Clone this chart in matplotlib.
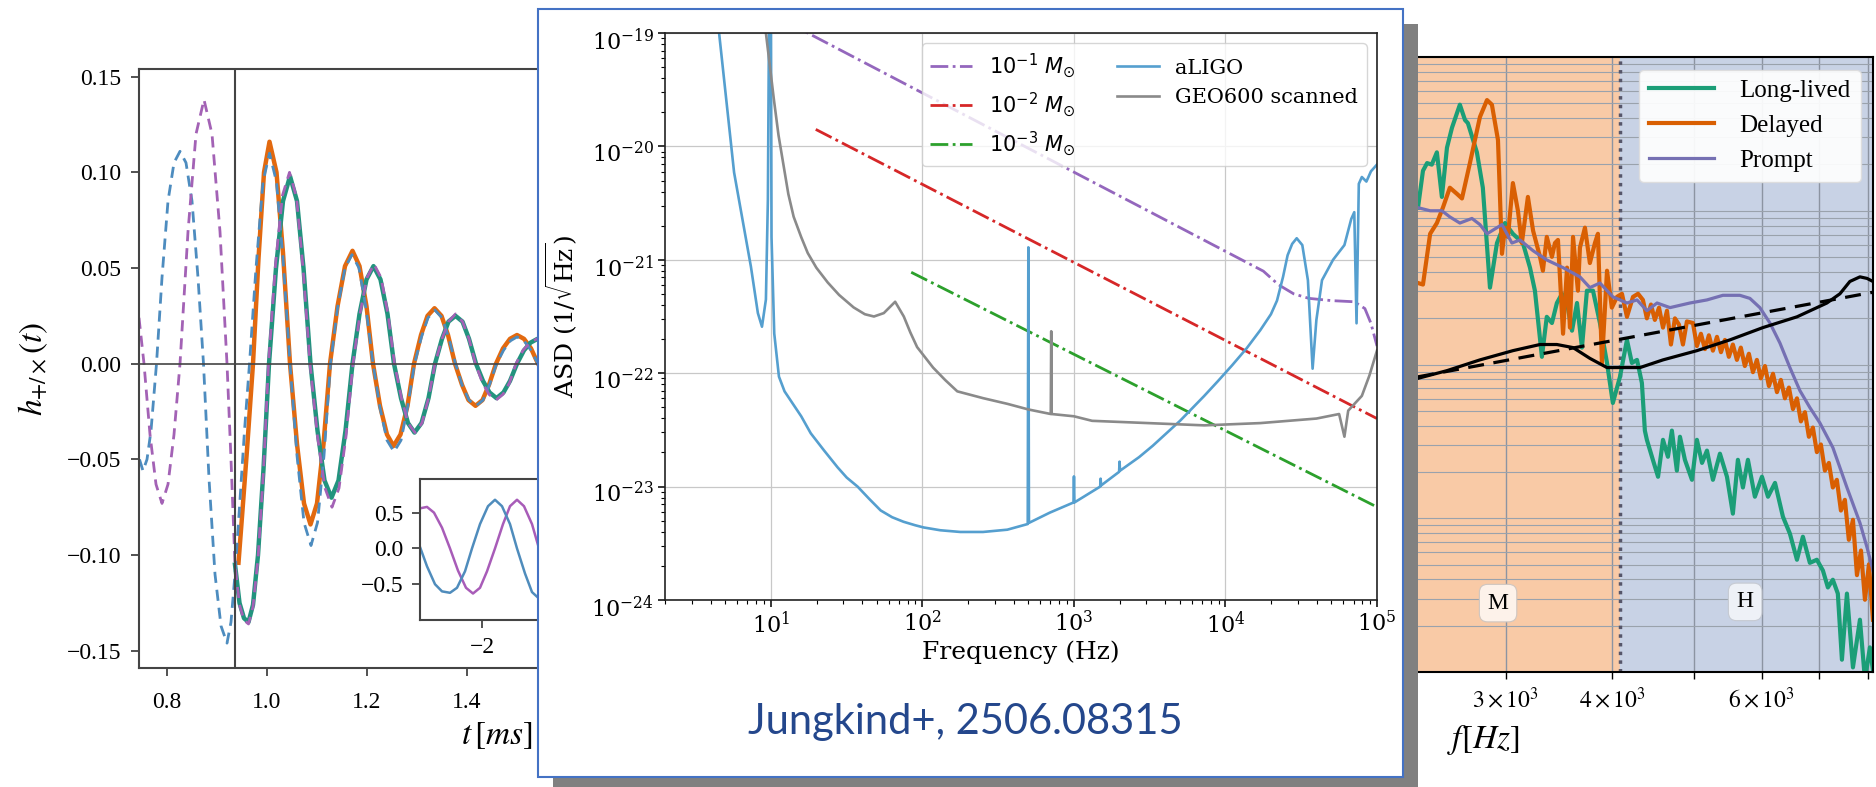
import numpy as np
import matplotlib
matplotlib.use('Agg')
import matplotlib.pyplot as plt
import matplotlib.transforms as mtransforms
from matplotlib.patches import Rectangle
from matplotlib.ticker import NullFormatter
from matplotlib.font_manager import FontProperties

W, H = 1876, 787
plt.rcParams['font.family'] = 'DejaVu Serif'
plt.rcParams['mathtext.fontset'] = 'dejavuserif'

# ---- left panel: waveforms h(t), t in ms ----
dp_t = [0.744, 0.754, 0.766, 0.778, 0.790, 0.802, 0.814, 0.826, 0.842, 0.858, 0.874, 0.890, 0.906,
        0.920, 0.928, 0.936, 0.945, 0.954, 0.963, 0.972, 0.982, 0.993, 1.003, 1.017, 1.031, 1.045,
        1.059, 1.072, 1.086, 1.101, 1.116, 1.130, 1.144, 1.158, 1.172, 1.186, 1.200, 1.214, 1.228,
        1.242, 1.255, 1.269, 1.282, 1.296, 1.310, 1.323, 1.336, 1.350, 1.363, 1.377, 1.391, 1.404,
        1.417, 1.431, 1.444, 1.458, 1.472, 1.485, 1.498, 1.512, 1.526, 1.540, 1.553, 1.567, 1.580]
dp_h = [0.024, 0.0, -0.037, -0.063, -0.073, -0.063, -0.037, 0.0, 0.069, 0.120, 0.138, 0.120, 0.069,
        0.0, -0.050, -0.105, -0.126, -0.134, -0.136, -0.127, -0.102, -0.056, 0.0, 0.052, 0.088, 0.100,
        0.087, 0.050, 0.0, -0.038, -0.065, -0.075, -0.065, -0.038, 0.0, 0.026, 0.045, 0.052, 0.045,
        0.026, 0.0, -0.018, -0.031, -0.036, -0.031, -0.018, 0.0, 0.013, 0.022, 0.026, 0.022, 0.013,
        0.0, -0.010, -0.016, -0.019, -0.016, -0.010, 0.0, 0.007, 0.011, 0.013, 0.011, 0.007, 0.0]

db_t = [0.745, 0.752, 0.760, 0.768, 0.779, 0.790, 0.802, 0.814, 0.826, 0.838, 0.850, 0.862, 0.873,
        0.884, 0.896, 0.908, 0.920, 0.928, 0.936, 0.945, 0.955, 0.965, 0.978, 0.992, 1.005, 1.019,
        1.032, 1.046, 1.060, 1.074, 1.088, 1.101, 1.114, 1.127, 1.141, 1.156, 1.170, 1.184, 1.198,
        1.212, 1.226, 1.240, 1.254, 1.268, 1.281, 1.295, 1.309, 1.322, 1.336, 1.350, 1.363, 1.377,
        1.390, 1.404, 1.418, 1.432, 1.445, 1.459, 1.473, 1.487, 1.500, 1.514, 1.528, 1.542, 1.556,
        1.570, 1.584]
db_h = [-0.050, -0.056, -0.050, -0.035, 0.0, 0.045, 0.085, 0.105, 0.111, 0.105, 0.085, 0.045, 0.0,
        -0.060, -0.110, -0.137, -0.146, -0.135, -0.110, -0.075, -0.035, 0.0, 0.050, 0.095, 0.110,
        0.095, 0.055, 0.0, -0.048, -0.083, -0.095, -0.083, -0.048, 0.0, 0.029, 0.050, 0.057, 0.050,
        0.029, 0.0, -0.023, -0.040, -0.046, -0.040, -0.023, 0.0, 0.014, 0.024, 0.028, 0.024, 0.014,
        0.0, -0.011, -0.019, -0.022, -0.019, -0.011, 0.0, 0.007, 0.012, 0.014, 0.012, 0.007, 0.0,
        -0.006, -0.009, -0.010]

os_t = [0.943, 0.950, 0.960, 0.972, 0.983, 0.994, 1.005, 1.019, 1.032, 1.046, 1.060, 1.074, 1.087,
        1.100, 1.113, 1.126, 1.141, 1.156, 1.171, 1.185, 1.199, 1.212, 1.226, 1.240, 1.253, 1.267,
        1.281, 1.294, 1.308, 1.321, 1.335, 1.349, 1.362, 1.376, 1.390, 1.403, 1.417, 1.431, 1.444,
        1.458, 1.472, 1.486, 1.500, 1.514, 1.528, 1.542, 1.556, 1.570, 1.584]
os_h = [-0.104, -0.080, -0.045, 0.0, 0.055, 0.100, 0.116, 0.100, 0.058, 0.0, -0.042, -0.073, -0.084,
        -0.073, -0.042, 0.0, 0.030, 0.051, 0.059, 0.051, 0.030, 0.0, -0.022, -0.037, -0.043, -0.037,
        -0.022, 0.0, 0.015, 0.025, 0.029, 0.025, 0.015, 0.0, -0.011, -0.019, -0.022, -0.019, -0.011,
        0.0, 0.008, 0.013, 0.015, 0.013, 0.008, 0.0, -0.006, -0.010, -0.011]

ts_t = [0.936, 0.945, 0.954, 0.963, 0.972, 0.982, 0.993, 1.004, 1.018, 1.032, 1.046, 1.060, 1.073,
        1.087, 1.101, 1.115, 1.129, 1.143, 1.157, 1.171, 1.185, 1.199, 1.213, 1.227, 1.241, 1.254,
        1.268, 1.282, 1.295, 1.309, 1.323, 1.336, 1.350, 1.363, 1.377, 1.391, 1.404, 1.418, 1.432,
        1.445, 1.459, 1.473, 1.486, 1.500, 1.514, 1.527, 1.541, 1.555, 1.568, 1.582]
ts_h = [-0.105, -0.125, -0.133, -0.135, -0.126, -0.100, -0.055, 0.0, 0.050, 0.085, 0.098, 0.085, 0.050,
        0.0, -0.035, -0.061, -0.070, -0.061, -0.035, 0.0, 0.026, 0.044, 0.051, 0.044, 0.026, 0.0,
        -0.018, -0.031, -0.036, -0.031, -0.018, 0.0, 0.013, 0.022, 0.025, 0.022, 0.013, 0.0, -0.009,
        -0.015, -0.018, -0.015, -0.009, 0.0, 0.007, 0.011, 0.013, 0.011, 0.007, 0.0]

t_merger = 0.936

inset_pu_t = [-2.62, -2.55, -2.48, -2.40, -2.32, -2.24, -2.16, -2.09, -2.02, -1.95, -1.87, -1.79,
              -1.72, -1.65, -1.58, -1.50, -1.43, -1.35, -1.28, -1.20, -1.12, -1.05, -0.98]
inset_pu_h = [0.56, 0.58, 0.50, 0.29, 0.0, -0.31, -0.55, -0.63, -0.55, -0.32, 0.0, 0.34, 0.59, 0.68,
              0.59, 0.34, 0.0, -0.35, -0.60, -0.69, -0.60, -0.35, 0.0]
inset_bl_t = [-2.62, -2.55, -2.47, -2.40, -2.32, -2.25, -2.17, -2.10, -2.02, -1.94, -1.87, -1.80,
              -1.72, -1.65, -1.57, -1.50, -1.43, -1.36, -1.28, -1.20, -1.13, -1.06]
inset_bl_h = [0.02, -0.25, -0.50, -0.60, -0.62, -0.55, -0.32, 0.0, 0.34, 0.59, 0.68, 0.59, 0.34, 0.0,
              -0.35, -0.61, -0.70, -0.61, -0.35, 0.0, 0.35, 0.60]

# ---- middle panel: ASD curves, stored as log10(f), log10(ASD) ----
aligo_logf = [0.62, 0.658, 0.757, 0.868, 0.914, 0.941, 0.967, 0.98, 0.987, 0.993, 1.0, 1.004, 1.022,
              1.053, 1.09, 1.13, 1.2, 1.263, 1.35, 1.44, 1.5, 1.572, 1.65, 1.724, 1.8, 1.875, 1.95,
              2.007, 2.118, 2.25, 2.40, 2.56, 2.695, 2.699, 2.703, 2.84, 2.997, 3.0, 3.003, 3.173,
              3.176, 3.179, 3.298, 3.301, 3.304, 3.43, 3.52, 3.61, 3.7, 3.78, 3.86, 3.95, 4.044, 4.14,
              4.23, 4.3, 4.34, 4.38, 4.41, 4.44, 4.47, 4.507, 4.544, 4.575, 4.6, 4.637, 4.71, 4.785,
              4.83, 4.85, 4.865, 4.88, 4.9, 4.93, 4.96, 5.0]
aligo_logasd = [-18.8, -19.0, -20.23, -21.06, -21.47, -21.59, -21.35, -20.47, -19.0, -18.8, -18.8,
                -20.8, -21.65, -22.03, -22.16, -22.24, -22.38, -22.53, -22.68, -22.83, -22.92, -23.0,
                -23.11, -23.21, -23.27, -23.31, -23.34, -23.36, -23.385, -23.40, -23.40, -23.38,
                -23.33, -20.89, -23.32, -23.23, -23.14, -22.91, -23.14, -23.0, -22.93, -22.99, -22.87,
                -22.78, -22.86, -22.74, -22.64, -22.53, -22.42, -22.31, -22.2, -22.07, -21.93, -21.78,
                -21.62, -21.48, -21.36, -21.15, -20.96, -20.86, -20.81, -20.87, -21.18, -21.96, -21.53,
                -21.18, -21.0, -20.87, -20.64, -20.58, -21.56, -20.33, -20.27, -20.31, -20.22, -20.16]
geo_logf = [0.95, 0.967, 1.02, 1.05, 1.085, 1.115, 1.15, 1.2, 1.243, 1.3, 1.375, 1.45, 1.546, 1.62,
            1.68, 1.745, 1.82, 1.877, 1.92, 1.965, 2.07, 2.15, 2.23, 2.4, 2.56, 2.7, 2.847, 2.85,
            2.853, 3.0, 3.12, 3.49, 3.86, 4.23, 4.6, 4.75, 4.785, 4.81, 4.9, 4.95, 5.0]
geo_logasd = [-18.8, -19.0, -19.59, -19.9, -20.18, -20.42, -20.62, -20.8, -20.94, -21.07, -21.2,
              -21.31, -21.42, -21.48, -21.5, -21.47, -21.37, -21.5, -21.64, -21.77, -21.95, -22.06,
              -22.16, -22.22, -22.27, -22.32, -22.36, -21.63, -22.36, -22.38, -22.42, -22.44, -22.46,
              -22.44, -22.4, -22.36, -22.56, -22.33, -22.2, -22.02, -21.8]
m1_logf = [1.1, 4.25, 4.35, 4.45, 4.55, 4.7, 4.85, 4.92, 4.96, 5.0]
m1_logasd = [-18.9, -21.1, -21.22, -21.3, -21.34, -21.36, -21.37, -21.43, -21.56, -21.76]
m2_logf = [1.296, 5.0]
m2_logasd = [-19.85, -22.4]
m3_logf = [1.926, 5.0]
m3_logasd = [-21.11, -23.18]

# ---- right panel: spectra, f in Hz, log10(ASD) ----
long_f = [2364, 2396, 2423, 2454, 2488, 2522, 2557, 2592, 2648, 2685, 2706, 2773, 2818, 2873, 2928,
          2992, 3057, 3141, 3202, 3245, 3307, 3351, 3398, 3444, 3492, 3540, 3588, 3637, 3686, 3736,
          3798, 3870, 3945, 4008, 4086, 4164, 4220, 4279, 4336, 4371, 4395, 4467, 4530, 4591, 4653,
          4703, 4767, 4807, 4872, 4966, 5033, 5103, 5172, 5256, 5357, 5460, 5548, 5624, 5701, 5779,
          5889, 6003, 6102, 6219, 6354, 6475, 6600, 6707, 6835, 6966, 7081, 7177, 7274, 7373, 7455,
          7557, 7681, 7828, 7935, 8042, 8109]
long_v = [-20.98, -20.74, -20.69, -20.70, -20.62, -20.91, -20.59, -20.46, -20.31, -20.41, -20.43,
          -20.62, -20.85, -21.50, -21.21, -21.08, -21.15, -21.21, -21.37, -21.52, -21.95, -21.69,
          -21.73, -21.60, -21.54, -21.60, -21.78, -21.60, -21.89, -21.52, -21.52, -21.73, -21.99,
          -22.25, -22.08, -21.84, -21.99, -21.97, -22.12, -22.43, -22.49, -22.62, -22.73, -22.49,
          -22.60, -22.43, -22.69, -22.47, -22.62, -22.75, -22.49, -22.64, -22.56, -22.75, -22.58,
          -22.73, -22.97, -22.62, -22.80, -22.62, -22.86, -22.73, -22.86, -22.77, -22.99, -23.10,
          -23.27, -23.12, -23.29, -23.27, -23.34, -23.45, -23.40, -23.49, -23.92, -23.49, -23.97,
          -23.66, -24.05, -23.84, -23.99]
delayed_f = [2364, 2396, 2443, 2488, 2529, 2577, 2627, 2663, 2721, 2796, 2850, 2888, 2936, 2968, 2992,
             3016, 3057, 3099, 3132, 3184, 3229, 3290, 3316, 3351, 3398, 3426, 3454, 3502, 3540, 3568,
             3598, 3646, 3666, 3716, 3766, 3818, 3849, 3891, 3945, 3997, 4053, 4108, 4164, 4233, 4291,
             4348, 4395, 4444, 4491, 4542, 4591, 4641, 4691, 4742, 4794, 4846, 4898,
             4979, 5033, 5088, 5144, 5199, 5256, 5314, 5372, 5430, 5488, 5548, 5609, 5669, 5731, 5794,
             5858, 5921, 5985, 6052, 6117, 6185, 6252, 6318, 6388, 6458, 6529, 6600, 6671, 6744, 6817,
             6891, 6966, 7042, 7119, 7196, 7274, 7353, 7435, 7515, 7596, 7681, 7765, 7850, 7935, 8021,
             8109]
delayed_v = [-21.47, -21.48, -21.15, -21.08, -20.98, -20.85, -20.89, -20.92, -20.69, -20.39, -20.28,
             -20.31, -20.54, -21.28, -21.11, -21.17, -20.82, -21.00, -21.21, -20.91, -21.13, -21.30,
             -21.39, -21.17, -21.30, -21.21, -21.19, -21.80, -21.37, -21.76, -21.17, -21.52, -21.24,
             -21.11, -21.34, -21.21, -21.15, -21.99, -21.39, -21.63, -21.56, -21.54, -21.69, -21.56,
             -21.54,
             -21.58, -21.70, -21.61, -21.71, -21.63, -21.76, -21.65, -21.87, -21.70, -21.74, -21.87,
             -21.72,
             -21.73, -21.88, -21.80, -21.90, -21.81, -21.91, -21.82, -21.92, -21.84, -21.95, -21.87,
             -21.97, -21.89, -22.01, -21.93, -22.05, -21.97, -22.09, -22.01, -22.14, -22.06, -22.18,
             -22.10, -22.22, -22.15, -22.29, -22.22, -22.37, -22.31, -22.47, -22.41, -22.57, -22.52,
             -22.69, -22.64, -22.80, -22.75, -22.95, -22.88, -23.14, -23.01, -23.37, -23.21, -23.53,
             -23.30, -23.66]
prompt_f = [2364, 2443, 2522, 2577, 2648, 2736, 2796, 2850, 2968, 3049, 3116, 3229, 3351, 3502, 3666,
            3766, 3870, 4008, 4164, 4279, 4395, 4518, 4679, 4939, 5172, 5400, 5654, 5810, 5969, 6134,
            6302, 6475, 6653, 6835, 7023, 7274, 7557, 7828, 7980, 8109]
prompt_v = [-20.98, -21.00, -21.00, -21.04, -21.08, -21.05, -21.09, -21.15, -21.09, -21.21, -21.19,
            -21.26, -21.32, -21.37, -21.43, -21.50, -21.47, -21.56, -21.60, -21.58, -21.65, -21.60,
            -21.63, -21.60, -21.58, -21.55, -21.55, -21.57, -21.63, -21.73, -21.86, -22.02, -22.17,
            -22.28, -22.38, -22.54, -22.80, -23.03, -23.19, -23.34]
noise_f = [2364, 2557, 2796, 3057, 3290, 3444, 3598, 3766, 3945, 4086, 4314, 4591, 5033, 5503, 6018,
           6600, 7158, 7415, 7617, 7828, 7980, 8109]
noise_v = [-22.09, -22.04, -21.97, -21.91, -21.87, -21.87, -21.89, -21.96, -22.02, -22.02, -22.02,
           -21.97, -21.91, -21.84, -21.76, -21.69, -21.60, -21.54, -21.46, -21.43, -21.44, -21.46]
fit_f = [2364, 8109]
fit_v = [-22.08, -21.53]
f_split = 4087
right_ticks = [3000, 4000, 6000]
right_tick_labels = [r'$3\times10^{3}$', r'$4\times10^{3}$', r'$6\times10^{3}$']


def box(x0, y0, x1, y1):
    # pixel rectangle -> figure fraction [left, bottom, width, height]
    return [x0 / W, 1 - y1 / H, (x1 - x0) / W, (y1 - y0) / H]


fig = plt.figure(figsize=(W / 100, H / 100), dpi=100)

# ---------- left panel ----------
axl = fig.add_axes(box(139, 69, 640, 668))
axl.set_zorder(0)
axl.plot(os_t, os_h, color='#e2690f', lw=3.2)
axl.plot(ts_t, ts_h, color='#22937e', lw=3.2)
axl.plot(db_t, db_h, color='#4d8cbf', lw=2.0, ls=(0, (4, 2.5)))
axl.plot(dp_t, dp_h, color='#a362b5', lw=2.0, ls=(0, (4, 2.5)))
axl.axvline(t_merger, color='#444444', lw=1.5)
axl.axhline(0, color='#444444', lw=1.2)
axl.set_xlim(0.744, 1.746)
axl.set_ylim(-0.159, 0.154)
axl.set_xticks([0.8, 1.0, 1.2, 1.4], ['0.8', '1.0', '1.2', '1.4'])
axl.set_yticks([-0.15, -0.10, -0.05, 0.0, 0.05, 0.10, 0.15],
               ['\u22120.15', '\u22120.10', '\u22120.05', '0.00', '0.05', '0.10', '0.15'])
axl.tick_params(length=6, width=1.3, color='#444444', labelsize=17,
                labelfontfamily='Liberation Serif')
axl.tick_params(axis='x', pad=11)
axl.tick_params(axis='y', pad=7)
for s in axl.spines.values():
    s.set_color('#444444')
    s.set_linewidth(1.5)
axl.set_ylabel(r'$h_{+/\times}(t)$', fontsize=24, math_fontfamily='stix')
axl.yaxis.set_label_coords(-0.178, 0.5)

axi = fig.add_axes(box(420, 479, 640, 620))
axi.set_zorder(1)
axi.plot(inset_pu_t, inset_pu_h, color='#a85cb8', lw=1.8)
axi.plot(inset_bl_t, inset_bl_h, color='#4f8cbc', lw=1.8)
axi.set_xlim(-2.62, -0.42)
axi.set_ylim(-1.0, 0.97)
axi.set_xticks([-2], ['\u22122'])
axi.set_yticks([-0.5, 0.0, 0.5], ['\u22120.5', '0.0', '0.5'])
axi.tick_params(length=6, width=1.3, color='#444444', labelsize=17, pad=6,
                labelfontfamily='Liberation Serif')
for s in axi.spines.values():
    s.set_color('#444444')
    s.set_linewidth(1.5)

fig.text(533 / W, 1 - 735 / H, r'$t\,[ms]$', ha='right', va='center', fontsize=24,
         math_fontfamily='stix', zorder=1)

# ---------- middle box with shadow ----------
gray = '#808080'
fig.add_artist(Rectangle((1403 / W, 1 - 787 / H), 15 / W, (787 - 24) / H,
                         transform=fig.transFigure, fc=gray, ec='none', zorder=2))
fig.add_artist(Rectangle((553 / W, 1 - 787 / H), (1418 - 553) / W, 10 / H,
                         transform=fig.transFigure, fc=gray, ec='none', zorder=2))
fig.add_artist(Rectangle((538 / W, 1 - 777 / H), (1403 - 538) / W, (777 - 9) / H,
                         transform=fig.transFigure, fc='white', ec='#4472c4', lw=1.5, zorder=3))

axm = fig.add_axes(box(665, 33, 1377, 600))
axm.set_zorder(4)
axm.set_xscale('log')
axm.set_yscale('log')
l1, = axm.plot(10 ** np.array(m1_logf), 10 ** np.array(m1_logasd), color='#9467bd', lw=2.0,
               ls='-.', label=r'$10^{-1}\ M_{\odot}$')
l2, = axm.plot(10 ** np.array(m2_logf), 10 ** np.array(m2_logasd), color='#d62728', lw=2.0,
               ls='-.', label=r'$10^{-2}\ M_{\odot}$')
l3, = axm.plot(10 ** np.array(m3_logf), 10 ** np.array(m3_logasd), color='#2ca02c', lw=2.0,
               ls='-.', label=r'$10^{-3}\ M_{\odot}$')
l4, = axm.plot(10 ** np.array(aligo_logf), 10 ** np.array(aligo_logasd), color='#559fcf', lw=1.9,
               label='aLIGO')
l5, = axm.plot(10 ** np.array(geo_logf), 10 ** np.array(geo_logasd), color='#8a8a8a', lw=1.9,
               label='GEO600 scanned')
axm.set_xlim(2, 1e5)
axm.set_ylim(1e-24, 1e-19)
axm.grid(True, which='major', color='#c8c8c8', lw=0.9)
axm.tick_params(which='major', length=5, width=1.1, labelsize=16, pad=3)
axm.tick_params(which='minor', length=3, width=0.8)
# nudge the y tick labels down a little, as in the source figure
shift = mtransforms.ScaledTranslation(0, -6 / 100, fig.dpi_scale_trans)
for lbl in axm.get_yticklabels():
    lbl.set_transform(lbl.get_transform() + shift)
for s in axm.spines.values():
    s.set_color('#222222')
    s.set_linewidth(1.2)
axm.set_xlabel('Frequency (Hz)', fontsize=18)
axm.xaxis.set_label_coords(0.5, -0.072)
axm.set_ylabel(r'ASD (1/$\sqrt{\mathrm{Hz}}$)', fontsize=18)
axm.yaxis.set_label_coords(-0.12, 0.5)
axm.legend(handles=[l1, l2, l3, l4, l5], ncol=2, loc='upper right',
           prop=FontProperties(family='DejaVu Serif', size=15, math_fontfamily='dejavusans'))

fig.text(965 / W, 1 - 722 / H, 'Jungkind+, 2506.08315', ha='center', va='center', fontsize=30,
         color='#24478c', family='Lato', zorder=10)

# ---------- right panel ----------
axr = fig.add_axes(box(1418, 57, 1873, 672))
axr.set_zorder(1)
axr.set_xscale('log')
axr.set_yscale('log')
axr.set_xlim(2364, 8110)
axr.set_ylim(1e-24, 1e-20)
axr.axvspan(2364, f_split, color='#f9caa6', zorder=0)
axr.axvspan(f_split, 8110, color='#c8d2e5', zorder=0)
axr.grid(True, which='both', axis='y', color='#9aa2ac', lw=0.8)
axr.grid(True, which='both', axis='x', color='#8c94a2', lw=1.0)
axr.axvline(f_split, color='#56566a', ls=(0, (1, 1.5)), lw=2.5)
axr.plot(long_f, 10 ** np.array(long_v), color='#1b9e77', lw=3.0, label='Long-lived')
axr.plot(delayed_f, 10 ** np.array(delayed_v), color='#d95f02', lw=3.0, label='Delayed')
axr.plot(prompt_f, 10 ** np.array(prompt_v), color='#7570b3', lw=2.3, label='Prompt')
axr.plot(fit_f, 10 ** np.array(fit_v), color='black', lw=2.3, ls=(0, (5, 3)))
axr.plot(noise_f, 10 ** np.array(noise_v), color='black', lw=2.3)
axr.set_xticks(right_ticks, right_tick_labels)
axr.set_xticks([5000, 7000, 8000], minor=True)
axr.xaxis.set_minor_formatter(NullFormatter())
axr.tick_params(axis='x', which='both', length=5, width=1.0, labelsize=17, pad=6,
                labelfontfamily='Liberation Serif')
for lbl in axr.get_xticklabels():
    lbl.set_math_fontfamily('stix')
axr.tick_params(axis='y', which='both', left=False, labelleft=False)
axr.spines['left'].set_visible(False)
for k in ['top', 'bottom', 'right']:
    axr.spines[k].set_color('black')
    axr.spines[k].set_linewidth(1.5)
axr.legend(loc='upper right', handlelength=2.6, handletextpad=1.0, framealpha=0.92,
           edgecolor='#dddddd', prop=FontProperties(family='Liberation Serif', size=18))
axr.text(0.176, 0.112, 'M', transform=axr.transAxes, ha='center', va='center', fontsize=17,
         family='Liberation Serif',
         bbox=dict(boxstyle='round,pad=0.35', fc='#fdf2ea', ec='#cfc6c0', lw=0.8))
axr.text(0.719, 0.114, 'H', transform=axr.transAxes, ha='center', va='center', fontsize=17,
         family='Liberation Serif',
         bbox=dict(boxstyle='round,pad=0.35', fc='#eef1f7', ec='#c6cad2', lw=0.8))
fig.text(1447 / W, 1 - 740 / H, r'$f[Hz]$', ha='left', va='center', fontsize=24,
         math_fontfamily='stix', zorder=1)

fig.savefig('out.png', dpi=100)
